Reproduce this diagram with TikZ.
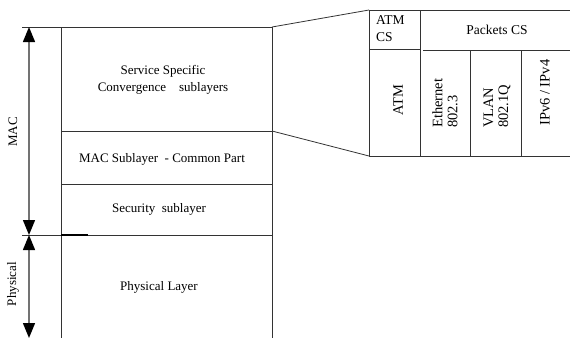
\documentclass[tikz,border=0pt]{standalone}
\usepackage{fontspec}
\setmainfont{Liberation Serif}
\usetikzlibrary{arrows.meta,positioning}

\tikzset{
  rule/.style={draw=black!80, line width=0.8pt},
  lbl/.style={inner sep=0pt, align=center, font=\fontsize{13}{17}\selectfont},
  vlbl/.style={inner sep=0pt, rotate=90, align=left, font=\fontsize{14.5}{15}\selectfont},
  span/.style={{Triangle[length=15pt,width=12pt,color=black]}-{Triangle[length=15pt,width=12pt,color=black]},
    draw=black!55, line width=1.4pt},
}

\begin{document}
\begin{tikzpicture}[x=1pt, y=-1pt]
	\useasboundingbox (0,0) rectangle (570,338);
	% the layer stack
	\draw[rule] (22,27) -- (272,27);
	\draw[rule] (61,27) -- (61,338);
	\draw[rule] (272,27) -- (272,338);
	\draw[rule] (61,131) -- (272,131);
	\draw[rule] (61,184) -- (272,184);
	\draw[rule] (22,235) -- (272,235);
	\draw[line width=2pt] (61,235) -- (88,235);
	\node[lbl] (sscs) at (163,80) {Service Specific\\ Convergence\quad sublayers};
	\node[lbl] (cps) at (162,159) {MAC Sublayer\ \ - Common Part};
	\node[lbl] (sec) at (159,209) {Security\ \ sublayer};
	\node[lbl] (phy) at (159,287) {Physical Layer};
	% spans on the left
	\coordinate (mactop) at (29,27);
	\coordinate (macbot) at (29,235);
	\coordinate (phybot) at (29,338);
	\draw[span] (mactop) -- (macbot);
	\draw[span] (macbot) -- (phybot);
	\node[lbl, rotate=90] (mac) at (13,132) {MAC};
	\node[lbl, rotate=90] (physical) at (13,284) {Physical};
	% CS table
	\coordinate (tl) at (369,10);
	\coordinate (bl) at (369,156);
	\draw[rule] (tl) -- (570,10);
	\draw[rule] (bl) -- (570,156);
	\draw[rule] (tl) -- (bl);
	\draw[rule] (420,10) -- (420,156);
	\draw[rule] (369,49) -- (420,49);
	\draw[rule] (423,50) -- (570,50);
	\draw[rule] (470,50) -- (470,156);
	\draw[rule] (521,50) -- (521,156);
	\node[lbl, align=left, anchor=west, font=\fontsize{13.5}{17}\selectfont] (atmcs) at (376,29) {ATM\\CS};
	\node[lbl, font=\fontsize{13.5}{17}\selectfont] (pcs) at (497,30) {Packets CS};
	\node[vlbl, align=center] (atm) at (398,100) {ATM};
	\node[vlbl, anchor=west] (eth) at (445,128) {Ethernet\\802.3};
	\node[vlbl, anchor=west] (vlan) at (497,128) {VLAN\\802.1Q};
	\node[vlbl, anchor=west] (ip) at (545,126) {IPv6 / IPv4};
	% zoom lines
	\coordinate (st) at (272,27);
	\coordinate (sb) at (272,131);
	\draw[rule] (st) -- (tl);
	\draw[rule] (sb) -- (bl);
\end{tikzpicture}
\end{document}
